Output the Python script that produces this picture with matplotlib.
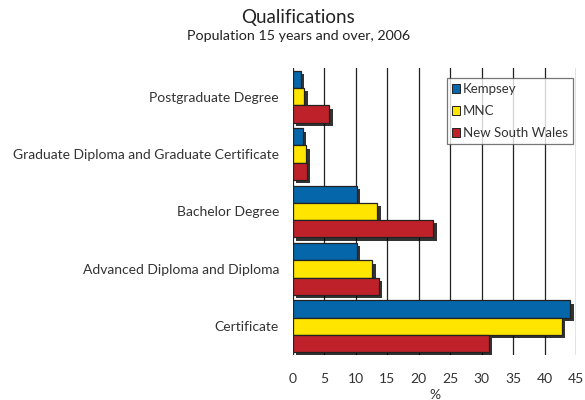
import numpy as np
import matplotlib
matplotlib.use('Agg')
import matplotlib.pyplot as plt
import matplotlib.patheffects as pe

categories = ['Postgraduate Degree',
              'Graduate Diploma and Graduate Certificate',
              'Bachelor Degree',
              'Advanced Diploma and Diploma',
              'Certificate']
series_names = ['Kempsey', 'MNC', 'New South Wales']
kempsey = [1.2, 1.6, 10.1, 10.2, 44.1]
mnc = [1.8, 2.1, 13.4, 12.6, 42.8]
nsw = [5.8, 2.2, 22.3, 13.6, 31.1]
x_ticks = [0, 5, 10, 15, 20, 25, 30, 35, 40, 45]

colors = ['#0566A9', '#FFE500', '#BE2129']

plt.rcParams['font.family'] = ['Lato', 'DejaVu Sans']

fig = plt.figure(figsize=(5.85, 4.0), dpi=100)
ax = fig.add_axes([293 / 585, 1 - 355 / 400, (576 - 293) / 585, (355 - 68) / 400])

h = 0.3
y = np.arange(len(categories))
# dark drop shadow under each bar
shadow = [pe.SimplePatchShadow(offset=(2.4, -2.4), shadow_rgbFace='black', alpha=0.8),
          pe.Normal()]

for i, (vals, name) in enumerate(zip([kempsey, mnc, nsw], series_names)):
    pos = y + (i - 1) * h
    bars = ax.barh(pos, vals, height=h, color=colors[i], edgecolor='#222222',
                   linewidth=0.9, label=name, zorder=3)
    for b in bars:
        b.set_path_effects(shadow)

ax.set_ylim(len(categories) - 0.5, -0.5)
ax.set_xlim(0, 45)
ax.set_xticks(x_ticks)
ax.set_yticks(y)
ax.set_yticklabels(categories, fontsize=10, color='#333333')
ax.tick_params(axis='x', labelsize=10, colors='#333333', length=0, pad=13)
ax.tick_params(axis='y', length=0, pad=10)
ax.xaxis.grid(True, color='#222222', linewidth=0.9, zorder=0)
ax.set_axisbelow(True)
for s in ax.spines.values():
    s.set_visible(False)

ax.set_xlabel('%', fontsize=10, color='#333333', labelpad=3)

fig.text(0.51, 0.955, 'Qualifications', ha='center', va='center', fontsize=13.5, color='#222222')
fig.text(0.51, 0.91, 'Population 15 years and over, 2006', ha='center', va='center',
         fontsize=10.3, color='#222222')

leg = ax.legend(loc='upper right', bbox_to_anchor=(573 / 585, 1 - 78 / 400),
                bbox_transform=fig.transFigure, fontsize=9.5, frameon=True, fancybox=False,
                handlelength=0.6, handleheight=0.6, handletextpad=0.2, borderpad=0.4,
                labelspacing=0.75, borderaxespad=0)
leg.get_frame().set_edgecolor('#555555')
leg.get_frame().set_linewidth(0.9)
for t in leg.get_texts():
    t.set_color('#333333')
for p in leg.get_patches():
    p.set_path_effects([])
    p.set_linewidth(0.7)

fig.savefig('out.png', dpi=100)
